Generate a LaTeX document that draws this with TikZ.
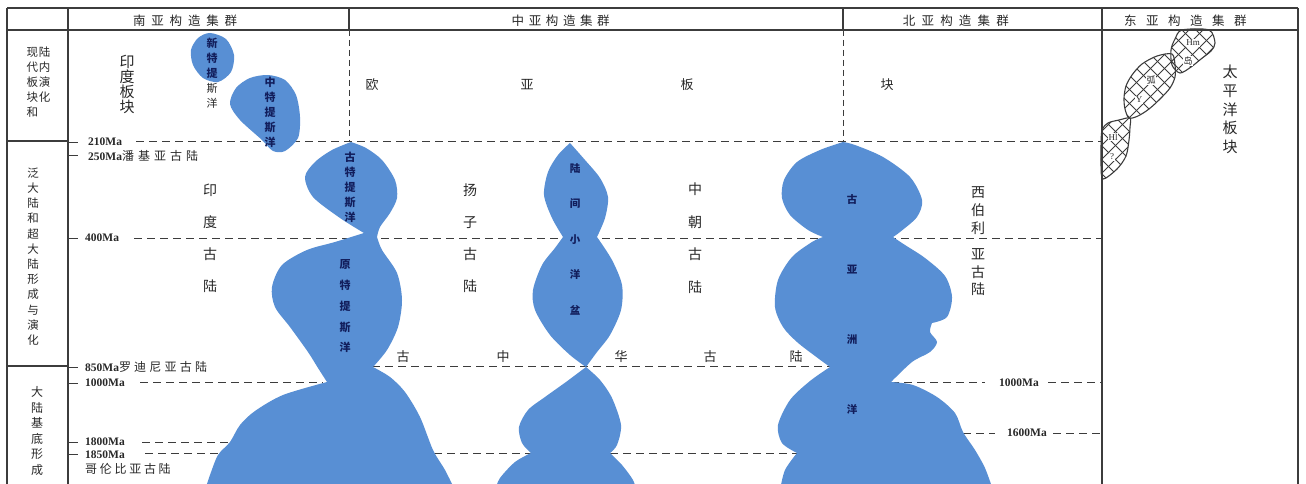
\documentclass[tikz,border=0pt]{standalone}
\usepackage{fontspec}
\setmainfont{Noto Sans CJK SC}
\newfontfamily\cjkfont{Noto Sans CJK SC}
\newfontfamily\serifmark{Liberation Serif}

\definecolor{ocean}{RGB}{88,143,212}
\definecolor{oceantext}{RGB}{18,30,92}
\definecolor{ink}{RGB}{40,40,40}
\definecolor{rule}{RGB}{60,60,60}

% spread the characters of a CJK string by a fixed gap
\makeatletter
\newcommand\spreadtext[2]{\@tfor\spch:=#2\do{\spch\hspace{#1}}\hspace{-#1}}
\makeatother
\newcommand\cjkpart[2]{{\cjkfont\mdseries\fontsize{12}{12}\selectfont\spreadtext{#1}{#2}}}

\begin{document}
\begin{tikzpicture}[x=1pt,y=-1pt,line join=round,
  frame/.style={draw=rule,line width=1.1pt},
  colline/.style={draw=rule,line width=1pt,dash pattern=on 6pt off 4pt},
  timeline/.style={draw=rule,line width=1pt,dash pattern=on 8pt off 5pt},
  tickmark/.style={draw=rule,line width=0.9pt},
  oceanfill/.style={fill=ocean},
  hatchline/.style={draw=rule,line width=0.8pt},
  arcoutline/.style={draw=rule,line width=1.1pt},
  header/.style={text=ink,inner sep=0pt,font=\fontsize{12.5}{13}\selectfont},
  colhead/.style={text=ink,inner sep=0pt,align=center,font=\fontsize{11.5}{15}\selectfont},
  landtext/.style={text=ink,inner sep=0pt,align=center},
  blobtext/.style={text=oceantext,inner sep=0pt,align=center},
  marklabel/.style={text=ink,anchor=west,inner sep=0pt,font=\serifmark\bfseries\fontsize{11.5}{12}\selectfont},
  arclabel/.style={text=ink,fill=white,inner sep=0.6pt,font=\serifmark\fontsize{9}{9}\selectfont}]

\useasboundingbox (0,0) rectangle (1306,484);
\fill[white] (0,0) rectangle (1306,484);
\begin{scope}
\clip (0,0) rectangle (1306,484);

% ---- table frame ----
\draw[frame] (7,8) -- (1298,8);
\draw[frame] (7,30) -- (1298,30);
\draw[frame] (7,8) -- (7,490);
\draw[frame] (68,8) -- (68,490);
\draw[frame] (349,8) -- (349,30);
\draw[frame] (843,8) -- (843,30);
\draw[frame] (1102,8) -- (1102,490);
\draw[frame] (1298,8) -- (1298,490);
\draw[frame] (7,141) -- (68,141);
\draw[frame] (7,366) -- (68,366);
\draw[colline] (349,30) -- (349,142);
\draw[colline] (843,30) -- (843,142);

% ---- age ticks ----
\foreach \t in {142,155,238,367,383,442,454}
  \draw[tickmark] (68,\t) -- (78,\t);

% ---- age lines ----
\draw[timeline] (136,142) -- (1102,142);
\draw[timeline] (134,238) -- (1102,238);
\draw[timeline] (372,366.5) -- (830,366.5);
\draw[timeline] (140,382.5) -- (323,382.5);
\draw[timeline] (891,382.5) -- (985,382.5);
\draw[timeline] (1048,382.5) -- (1102,382.5);
\draw[timeline] (963,433) -- (995,433);
\draw[timeline] (1053,433) -- (1102,433);
\draw[timeline] (142,442) -- (232,442);
\draw[timeline] (145,453) -- (220,453);
\draw[timeline] (434,453) -- (531,453);
\draw[timeline] (610,453) -- (797,453);

% ---- oceans ----
% Neo-Tethys
\fill[oceanfill] plot[smooth cycle] coordinates {(210,33) (226,39) (234,55) (231,72) (218,82) (203,78) (193,65) (191,50) (198,38)};
% Meso-Tethys
\fill[oceanfill] plot[smooth cycle] coordinates {(268,75) (285,80) (296,95) (300,117) (298,138) (285,151) (273,151) (262,140) (240,120) (230,104) (236,88) (250,78)};
% Palaeo-/Proto-Tethys and older ocean
\fill[oceanfill]
  plot[smooth] coordinates {(351,142) (366,148) (382,160) (395,180) (397,198) (390,213) (380,227) (377,237)}
  -- plot[smooth] coordinates {(377,237) (382,250) (397,273) (402,300) (398,327) (387,350) (373,367)}
  -- plot[smooth] coordinates {(373,367) (390,377) (405,392) (420,417) (433,450) (445,470) (455,490)}
  -- (205,490)
  -- plot[smooth] coordinates {(205,490) (210,475) (218,455) (230,442) (240,425) (255,411) (283,395) (327,382)}
  -- plot[smooth] coordinates {(327,382) (318,368) (308,352) (290,327) (275,307) (272,287) (282,265) (307,250) (335,242) (364,233)}
  -- plot[smooth] coordinates {(364,233) (340,218) (313,197) (305,177) (315,162) (332,150) (351,142)}
  -- cycle;
% intercontinental basins
\fill[oceanfill]
  plot[smooth] coordinates {(570,143) (585,160) (600,178) (608,197) (605,218) (597,237)}
  -- plot[smooth] coordinates {(597,237) (612,260) (622,285) (621,310) (610,335) (597,352) (586,367)}
  -- plot[smooth] coordinates {(586,367) (600,380) (612,398) (621,425) (617,445) (610,453)}
  -- plot[smooth] coordinates {(610,453) (622,465) (633,480) (636,490)}
  -- (495,490)
  -- plot[smooth] coordinates {(495,490) (500,478) (515,462) (531,453)}
  -- plot[smooth] coordinates {(531,453) (522,443) (519,427) (528,410) (545,397) (566,382) (586,367)}
  -- plot[smooth] coordinates {(586,367) (570,355) (550,335) (535,310) (533,290) (542,265) (555,248) (563,237)}
  -- plot[smooth] coordinates {(563,237) (552,218) (544,195) (548,172) (558,155) (570,143)}
  -- cycle;
% Palaeo-Asian ocean
\fill[oceanfill]
  plot[smooth] coordinates {(843,142) (855,145) (883,157) (910,177) (922,200) (917,217) (900,232) (893,237)}
  -- plot[smooth] coordinates {(893,237) (905,245) (925,258) (945,276) (952,297) (947,317) (932,323)}
  -- plot[smooth] coordinates {(932,323) (930,332) (937,342) (930,352) (912,362) (891,382)}
  -- plot[smooth] coordinates {(891,382) (913,385) (937,397) (955,413) (963,432) (975,450) (985,468) (993,490)}
  -- (780,490)
  -- plot[smooth] coordinates {(780,490) (785,470) (797,453)}
  -- plot[smooth] coordinates {(797,453) (782,443) (778,425) (790,400) (810,381) (830,367)}
  -- plot[smooth] coordinates {(830,367) (815,356) (797,342) (783,327) (775,307) (778,280) (792,257) (812,242) (823,237)}
  -- plot[smooth] coordinates {(823,237) (808,230) (790,215) (782,198) (784,180) (797,162) (820,150) (843,142)}
  -- cycle;

% ---- island arcs (cross-hatched) ----
\def\arcHm{(1182,30) (1209,30) (1215,43) (1211,51) (1201,59) (1191,67) (1180,73) (1172,65) (1171,50) (1175,39)}
\def\arcY{(1172,54) (1157,56) (1142,64) (1132,75) (1126,86) (1124,98) (1125,109) (1129,118) (1138,116) (1149,109) (1160,99) (1170,88) (1175,77) (1175,65)}
\def\arcHl{(1130,118) (1119,120) (1108,123) (1102,130) (1101,147) (1101,165) (1103,179) (1117,169) (1126,156) (1129,140) (1130,127)}
\foreach \shape in {\arcHm,\arcY,\arcHl}{
  \begin{scope}
    \clip plot[smooth cycle] coordinates \shape;
    \foreach \c in {900,914,...,1220}
      \draw[hatchline] (\c,0) -- (\c+200,200);
    \foreach \c in {1107,1121,...,1430}
      \draw[hatchline] (\c,0) -- (\c-200,200);
  \end{scope}
  \draw[arcoutline] plot[smooth cycle] coordinates \shape;
}
\end{scope}

% ---- headers ----
\node[header] (hdrS) at (188,20.5) {\spreadtext{5.8pt}{南亚构造集群}};
\node[header] (hdrC) at (563,20.5) {\spreadtext{4.6pt}{中亚构造集群}};
\node[header] (hdrN) at (959,20.5) {\spreadtext{6.2pt}{北亚构造集群}};
\node[header] (hdrE) at (1190,20.5) {\spreadtext{9.5pt}{东亚构造集群}};

% ---- stage column ----
\node[colhead] (stA1) at (32.5,82) {现\\代\\板\\块\\和};
\node[colhead] (stA2) at (44.5,74.5) {陆\\内\\演\\化};
\node[colhead,font=\fontsize{11.5}{15.2}\selectfont] (stB) at (33,256.5) {泛\\大\\陆\\和\\超\\大\\陆\\形\\成\\与\\演\\化};
\node[colhead,font=\fontsize{12}{15.6}\selectfont] (stC) at (37,431) {大\\陆\\基\\底\\形\\成};

% ---- age labels ----
\node[marklabel] (m210) at (88,142) {210Ma};
\node[marklabel] (m250) at (88,155.5) {250Ma\cjkpart{4pt}{潘基亚古陆}};
\node[marklabel] (m400) at (85,238) {400Ma};
\node[marklabel] (m850) at (85,367) {850Ma\cjkpart{3.2pt}{罗迪尼亚古陆}};
\node[marklabel] (m1000) at (85,383) {1000Ma};
\node[marklabel] (m1800) at (85,442) {1800Ma};
\node[marklabel] (m1850) at (85,454.5) {1850Ma};
\node[text=ink,anchor=west,inner sep=0pt] (mCol) at (85,469) {\cjkpart{2.7pt}{哥伦比亚古陆}};
\node[marklabel,anchor=center] (r1000) at (1019,382.5) {1000Ma};
\node[marklabel,anchor=center] (r1600) at (1027,433) {1600Ma};

% ---- plates and cratons ----
\node[landtext,font=\fontsize{15}{15}\selectfont] (india) at (127,84.5) {印\\度\\板\\块};
\node[landtext,font=\fontsize{13}{13}\selectfont] (eu1) at (372,85) {欧};
\node[landtext,font=\fontsize{13}{13}\selectfont] (eu2) at (527,85) {亚};
\node[landtext,font=\fontsize{13}{13}\selectfont] (eu3) at (687,85) {板};
\node[landtext,font=\fontsize{13}{13}\selectfont] (eu4) at (887,85) {块};
\node[landtext,font=\fontsize{15}{18.75}\selectfont] (pacific) at (1230,109.5) {太\\平\\洋\\板\\块};
\node[landtext,font=\fontsize{14}{32}\selectfont] (indcr) at (210,238.5) {印\\度\\古\\陆};
\node[landtext,font=\fontsize{14}{32}\selectfont] (yzcr) at (470,238.5) {扬\\子\\古\\陆};
\node[landtext,font=\fontsize{14}{32.5}\selectfont] (nccr) at (695,238) {中\\朝\\古\\陆};
\node[landtext,font=\fontsize{14}{18}\selectfont] (sib1) at (978,211) {西\\伯\\利};
\node[landtext,font=\fontsize{14}{17.5}\selectfont] (sib2) at (978,272.5) {亚\\古\\陆};
\node[landtext,font=\fontsize{13}{13}\selectfont] (pc1) at (403,357) {古};
\node[landtext,font=\fontsize{13}{13}\selectfont] (pc2) at (503,357) {中};
\node[landtext,font=\fontsize{13}{13}\selectfont] (pc3) at (621,357) {华};
\node[landtext,font=\fontsize{13}{13}\selectfont] (pc4) at (710,357) {古};
\node[landtext,font=\fontsize{13}{13}\selectfont] (pc5) at (796,357) {陆};

% ---- ocean names ----
\node[blobtext,font=\bfseries\fontsize{11}{15}\selectfont] (neoT) at (212,58) {新\\特\\提};
\node[landtext,font=\fontsize{11}{15}\selectfont] (neoT2) at (212,95.5) {斯\\洋};
\node[blobtext,font=\bfseries\fontsize{11}{15}\selectfont] (mesoT) at (270,112) {中\\特\\提\\斯\\洋};
\node[blobtext,font=\bfseries\fontsize{11}{15}\selectfont] (palT) at (350,187) {古\\特\\提\\斯\\洋};
\node[blobtext,font=\bfseries\fontsize{11}{20.75}\selectfont] (proT) at (345,306.5) {原\\特\\提\\斯\\洋};
\node[blobtext,font=\bfseries\fontsize{10.5}{35.5}\selectfont] (basin) at (575,239) {陆\\间\\小\\洋\\盆};
\node[blobtext,font=\bfseries\fontsize{10.5}{69.7}\selectfont] (pasia) at (852,304.5) {古\\亚\\洲\\洋};

% ---- island arc labels ----
\node[arclabel] (lHm) at (1193,43) {Hm};
\node[arclabel,font=\fontsize{9}{9}\selectfont] (lDao) at (1188,61) {岛};
\node[arclabel,font=\fontsize{9}{9}\selectfont] (lHu) at (1151,80) {弧};
\node[arclabel] (lY) at (1139,100) {Y};
\node[arclabel] (lHl) at (1113,137) {Hl};
\node[arclabel] (lQ) at (1112,157) {?};
\end{tikzpicture}
\end{document}
